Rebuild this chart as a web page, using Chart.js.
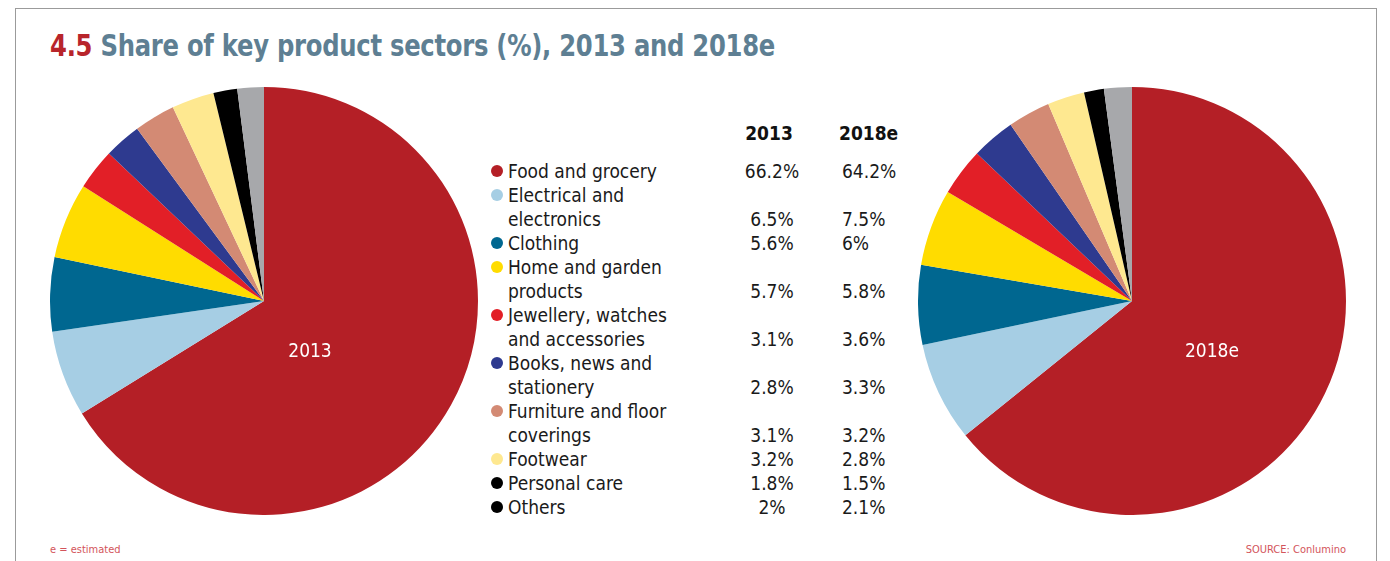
<!DOCTYPE html>
<html>
<head>
<meta charset="utf-8">
<script src="https://cdn.jsdelivr.net/npm/chart.js@4/dist/chart.umd.min.js"></script>
<style>
  html, body { margin: 0; padding: 0; background: #fff; }
  body { width: 1390px; height: 561px; overflow: hidden; position: relative;
         font-family: "Liberation Sans Narrow", "DejaVu Sans Condensed", "Liberation Sans", sans-serif; }
  #frame { position: absolute; left: 15px; top: 8px; width: 1362px; height: 620px;
           border: 1.5px solid #9b9b9b; box-sizing: border-box; }
  #title { position: absolute; left: 50px; top: 28px; font-size: 30px; font-weight: bold;
           color: #5e7f93; white-space: nowrap; letter-spacing: -0.3px;
           transform: scaleX(0.9); transform-origin: left center; }
  #title .num { color: #b8252b; }
  .pie { position: absolute; top: 87px; width: 428px; height: 428px; }
  #pie2013 { left: 50px; }
  #pie2018 { left: 918px; }
  .cell { position: absolute; height: 24px; line-height: 24px; font-size: 19px; color: #1a1a1a; white-space: nowrap; }
  .head { font-weight: bold; color: #111; }
  .dot { position: absolute; width: 12px; height: 12px; border-radius: 50%; }
  .foot { position: absolute; top: 543px; font-size: 11px; color: #d3545b; white-space: nowrap; }
</style>
</head>
<body>
<div id="frame"></div>
<div id="title"><span class="num">4.5</span> Share of key product sectors (%), 2013 and 2018e</div>
<div class="pie" id="pie2013"><canvas id="c2013" width="428" height="428"></canvas></div>
<div class="pie" id="pie2018"><canvas id="c2018" width="428" height="428"></canvas></div>
<div id="table"></div>
<div class="foot" style="left:50px">e = estimated</div>
<div class="foot" style="right:44px">SOURCE: Conlumino</div>

<script>
// Product sectors, each label split into the lines it is printed on
const categories = [
  ["Food and grocery"],
  ["Electrical and", "electronics"],
  ["Clothing"],
  ["Home and garden", "products"],
  ["Jewellery, watches", "and accessories"],
  ["Books, news and", "stationery"],
  ["Furniture and floor", "coverings"],
  ["Footwear"],
  ["Personal care"],
  ["Others"]
];
const years = ["2013", "2018e"];
const share2013 = [66.2, 6.5, 5.6, 5.7, 3.1, 2.8, 3.1, 3.2, 1.8, 2];
const share2018 = [64.2, 7.5, 6, 5.8, 3.6, 3.3, 3.2, 2.8, 1.5, 2.1];

const sliceColors = ["#b41f26", "#a6cee4", "#006790", "#ffdc00", "#e21f27",
                     "#2e3a8f", "#d38a74", "#fee890", "#000000", "#a7a8ab"];
const keyColors   = ["#b41f26", "#a6cee4", "#006790", "#ffdc00", "#e21f27",
                     "#2e3a8f", "#d38a74", "#fee890", "#000000", "#000000"];

// Year caption written inside the big slice
const centreCaption = {
  id: "centreCaption",
  afterDatasetsDraw(chart, args, opts) {
    const arc = chart.getDatasetMeta(0).data[0];
    const ctx = chart.ctx;
    ctx.save();
    ctx.fillStyle = "#ffffff";
    ctx.font = '19px "Liberation Sans Narrow", "DejaVu Sans Condensed", sans-serif';
    ctx.textAlign = "center";
    ctx.textBaseline = "middle";
    ctx.fillText(opts.text, arc.x + opts.dx, arc.y + opts.dy);
    ctx.restore();
  }
};

function makePie(id, values, caption, dx) {
  new Chart(document.getElementById(id), {
    type: "pie",
    data: {
      labels: categories.map(l => l.join(" ")),
      datasets: [{ data: values, backgroundColor: sliceColors, borderWidth: 0 }]
    },
    options: {
      responsive: false,
      animation: false,
      layout: { padding: 0 },
      plugins: {
        legend: { display: false },
        tooltip: { enabled: false },
        centreCaption: { text: caption, dx: dx, dy: 51 }
      }
    },
    plugins: [centreCaption]
  });
}

makePie("c2013", share2013, years[0], 46);
makePie("c2018", share2018, years[1], 80);

// Key with values for both years
const table = document.getElementById("table");
function cell(text, left, top, extra) {
  const d = document.createElement("div");
  d.className = "cell" + (extra ? " " + extra : "");
  d.textContent = text;
  d.style.left = left + "px";
  d.style.top = top + "px";
  table.appendChild(d);
  return d;
}
const h1 = cell(years[0], 729, 121, "head");
h1.style.width = "80px"; h1.style.textAlign = "center";
cell(years[1], 839, 121, "head");

let line = 0;
categories.forEach((lines, i) => {
  const firstTop = 159 + line * 24;
  const dot = document.createElement("div");
  dot.className = "dot";
  dot.style.background = keyColors[i];
  dot.style.left = "491px";
  dot.style.top = (firstTop + 6) + "px";
  table.appendChild(dot);
  lines.forEach((t, k) => cell(t, 508, firstTop + k * 24));
  const lastTop = firstTop + (lines.length - 1) * 24;
  const v1 = cell(share2013[i] + "%", 732, lastTop);
  v1.style.width = "80px"; v1.style.textAlign = "center";
  cell(share2018[i] + "%", 842, lastTop);
  line += lines.length;
});
</script>
</body>
</html>
